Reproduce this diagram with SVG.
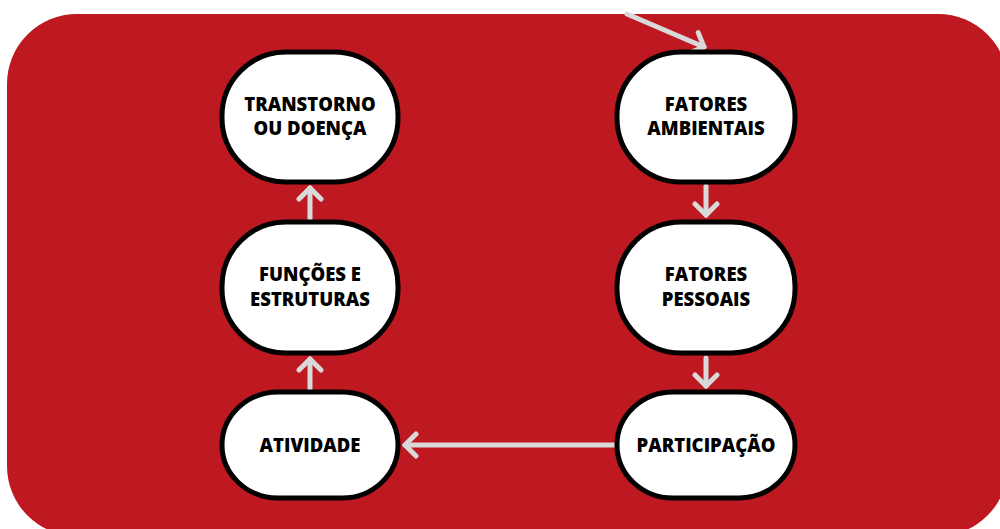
<svg xmlns="http://www.w3.org/2000/svg" width="1000" height="529" viewBox="0 0 1000 529">
<style>
.node rect{fill:#ffffff;stroke:#000000;stroke-width:5}
.node text{font-family:"Open Sans","Liberation Sans",sans-serif;font-weight:800;font-size:18.5px;fill:#000;text-anchor:middle}
.conn line{stroke:#d9d9d9;stroke-width:5;stroke-linecap:round;fill:none}
</style>
<defs>
<marker id="head" markerUnits="userSpaceOnUse" viewBox="-16 -14 20 28" markerWidth="20" markerHeight="28" refX="0" refY="0" orient="auto">
<path d="M-11,-11 L0,0 L-11,11" fill="none" stroke="#d9d9d9" stroke-width="5" stroke-linecap="round" stroke-linejoin="round"/>
</marker>
</defs>
<rect x="7" y="14" width="1001" height="522" rx="70" ry="70" fill="#be1820"/>
<g id="connectors" class="conn">
<line x1="627" y1="14" x2="704" y2="47" marker-end="url(#head)"/>
<line x1="706" y1="186" x2="706" y2="215" marker-end="url(#head)"/>
<line x1="706" y1="358" x2="706" y2="386" marker-end="url(#head)"/>
<line x1="614" y1="445" x2="405" y2="445" marker-end="url(#head)"/>
<line x1="310" y1="389" x2="310" y2="359" marker-end="url(#head)"/>
<line x1="310" y1="219" x2="310" y2="188" marker-end="url(#head)"/>
</g>
<g id="n-transtorno" class="node">
<rect x="222" y="52" width="176" height="130" rx="64" ry="64"/>
<text x="310" y="111">TRANSTORNO</text>
<text x="310" y="135">OU DOENÇA</text>
</g>
<g id="n-funcoes" class="node">
<rect x="222" y="222" width="176" height="131" rx="64" ry="64"/>
<text x="310" y="281">FUNÇÕES E</text>
<text x="310" y="306">ESTRUTURAS</text>
</g>
<g id="n-atividade" class="node">
<rect x="222" y="392" width="176" height="106" rx="56" ry="53"/>
<text x="310" y="452">ATIVIDADE</text>
</g>
<g id="n-ambientais" class="node">
<rect x="617" y="52" width="178" height="130" rx="64" ry="64"/>
<text x="706" y="111">FATORES</text>
<text x="706" y="135">AMBIENTAIS</text>
</g>
<g id="n-pessoais" class="node">
<rect x="617" y="222" width="178" height="131" rx="64" ry="64"/>
<text x="706" y="281">FATORES</text>
<text x="706" y="306">PESSOAIS</text>
</g>
<g id="n-participacao" class="node">
<rect x="617" y="392" width="178" height="106" rx="56" ry="53"/>
<text x="706" y="452">PARTICIPAÇÃO</text>
</g>
</svg>
